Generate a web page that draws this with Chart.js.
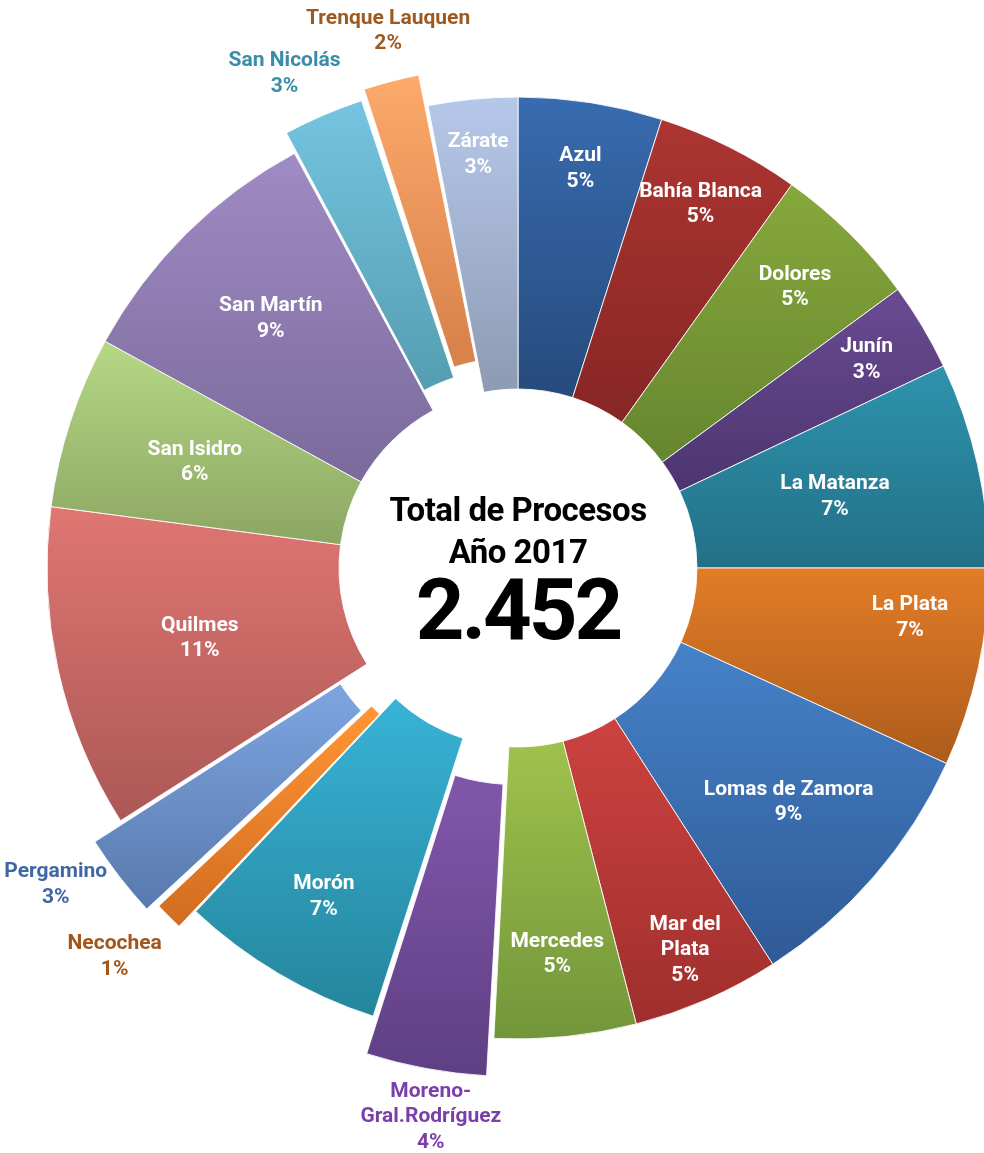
<!DOCTYPE html>
<html lang="es">
<head>
<meta charset="utf-8">
<title>Total de Procesos Año 2017</title>
<script src="https://cdn.jsdelivr.net/npm/chart.js@4.4.1/dist/chart.umd.min.js"></script>
<style>
  html, body { margin: 0; padding: 0; background: #fff; }
  .chart-box { position: relative; width: 984px; height: 1153px; }
</style>
</head>
<body>
<div class="chart-box">
  <canvas id="procesosChart"></canvas>
</div>
<script>
// Departamentos judiciales (clockwise from 12 o'clock)
const districts = [
  'Azul', 'Bahía Blanca', 'Dolores', 'Junín', 'La Matanza', 'La Plata',
  'Lomas de Zamora', 'Mar del Plata', 'Mercedes', 'Moreno-Gral.Rodríguez',
  'Morón', 'Necochea', 'Pergamino', 'Quilmes', 'San Isidro', 'San Martín',
  'San Nicolás', 'Trenque Lauquen', 'Zárate'
];

// Processes per district, 2017 (total 2.452)
const processes = [121, 121, 124, 74, 173, 167, 223, 124, 119, 102, 172, 26, 72, 272, 145, 224, 69, 49, 75];

// Title lines in the hole
const centerTitle = ['Total de Procesos', 'Año 2017'];

// Slice styles: gradient top / bottom colours
const topColors = [
  '#386bb0', '#ad3531', '#87a83c', '#6a4b92', '#2f93ad', '#e27c27',
  '#4682c9', '#cc4340', '#9fc24d', '#7f55a8', '#38b3d6', '#ff9433',
  '#7ba3de', '#df7672', '#b5d886', '#a08bc4', '#76c6e3', '#ffac6e', '#b6c8ea'
];
const bottomColors = [
  '#264b7c', '#862625', '#66862f', '#4c3570', '#227087', '#ad5c1c',
  '#2f5a96', '#9f2e2c', '#72953a', '#5b3d80', '#25859c', '#cf6a1f',
  '#5676a9', '#ab5856', '#8ca662', '#7a6a9b', '#569fb3', '#d8834b', '#8d9ab2'
];

// Exploded slices (chart.js offset units) and label placement
const explode = [0, 0, 0, 0, 0, 0, 0, 0, 0, 87, 0, 46, 73, 0, 0, 0, 48, 68, 0];
const labelRadius = [0.858, 0.864, 0.837, 0.862, 0.69, 0.839, 0.76, 0.885, 0.824, 1.18,
                     0.811, 1.189, 1.19, 0.692, 0.722, 0.745, 1.161, 1.172, 0.881];
const labelNudge = [0, 0, 0, 0, 0, -5, 0, 0, 0, -1.4, 0, 1, 3.3, 0, 0, 0, -2, 1, 0];
const outsideColors = {
  'Moreno-Gral.Rodríguez': '#7b3fa9',
  'Necochea': '#a0561c',
  'Pergamino': '#3f67a6',
  'San Nicolás': '#3a8ca8',
  'Trenque Lauquen': '#9e5a1e'
};
const wrapped = {
  'Mar del Plata': ['Mar del', 'Plata'],
  'Moreno-Gral.Rodríguez': ['Moreno-', 'Gral.Rodríguez']
};

const total = processes.reduce((a, b) => a + b, 0);

function formatThousands(n) {
  return String(n).replace(/\B(?=(\d{3})+(?!\d))/g, '.');
}

// Vertical gradient over each slice's own extent
const sliceGradient = {
  id: 'sliceGradient',
  beforeDatasetsDraw(chart) {
    const ctx = chart.ctx;
    chart.getDatasetMeta(0).data.forEach((arc, i) => {
      const { y, startAngle, endAngle, innerRadius, outerRadius } =
        arc.getProps(['y', 'startAngle', 'endAngle', 'innerRadius', 'outerRadius'], true);
      const shift = (arc.options.offset || 0) / 4;
      const mid = (startAngle + endAngle) / 2;
      const cy = y + Math.sin(mid) * shift;
      let top = Infinity;
      let bottom = -Infinity;
      for (let k = 0; k <= 24; k++) {
        const a = startAngle + (endAngle - startAngle) * k / 24;
        [innerRadius + shift, outerRadius + shift].forEach(r => {
          const py = cy + Math.sin(a) * r;
          top = Math.min(top, py);
          bottom = Math.max(bottom, py);
        });
      }
      const g = ctx.createLinearGradient(0, top, 0, bottom);
      g.addColorStop(0, topColors[i]);
      g.addColorStop(1, bottomColors[i]);
      arc.options.backgroundColor = g;
    });
  }
};

// Name + percentage on every slice
const sliceLabels = {
  id: 'sliceLabels',
  afterDatasetsDraw(chart) {
    const ctx = chart.ctx;
    ctx.save();
    ctx.font = 'bold 21px Roboto';
    ctx.textAlign = 'center';
    ctx.textBaseline = 'middle';
    chart.getDatasetMeta(0).data.forEach((arc, i) => {
      const { x, y, startAngle, endAngle, outerRadius } =
        arc.getProps(['x', 'y', 'startAngle', 'endAngle', 'outerRadius'], true);
      const name = districts[i];
      const a = (startAngle + endAngle) / 2 + labelNudge[i] * Math.PI / 180;
      const r = outerRadius * labelRadius[i];
      const px = x + Math.cos(a) * r;
      const py = y + Math.sin(a) * r;
      const pct = Math.round(processes[i] / total * 100) + '%';
      const lines = (wrapped[name] || [name]).concat(pct);
      ctx.fillStyle = outsideColors[name] || '#ffffff';
      lines.forEach((t, k) => {
        ctx.fillText(t, px, py + (k - (lines.length - 1) / 2) * 25.5);
      });
    });
    ctx.restore();
  }
};

// Title and total inside the hole
const centerText = {
  id: 'centerText',
  afterDraw(chart) {
    const ctx = chart.ctx;
    const arc = chart.getDatasetMeta(0).data[0];
    if (!arc) return;
    const { x, y } = arc.getProps(['x', 'y'], true);
    ctx.save();
    ctx.fillStyle = '#000';
    ctx.textAlign = 'center';
    ctx.textBaseline = 'middle';
    ctx.font = 'bold 33px Roboto';
    ctx.letterSpacing = '-0.5px';
    ctx.fillText(centerTitle[0], x, y - 55);
    ctx.fillText(centerTitle[1], x, y - 13);
    ctx.font = 'bold 85px Roboto';
    ctx.letterSpacing = '-3px';
    ctx.fillText(formatThousands(total), x, y + 50);
    ctx.restore();
  }
};

const chartCtx = document.getElementById('procesosChart').getContext('2d');
const procesosChart = new Chart(chartCtx, {
  type: 'doughnut',
  data: {
    labels: districts,
    datasets: [{
      data: processes,
      backgroundColor: topColors,
      borderColor: 'rgba(255,255,255,0.85)',
      borderWidth: 1,
      offset: explode
    }]
  },
  options: {
    responsive: true,
    maintainAspectRatio: false,
    animation: false,
    radius: 471,
    cutout: '38%',
    layout: {
      padding: { left: 52, right: 0, top: 0, bottom: 17 }
    },
    plugins: {
      legend: { display: false },
      tooltip: { enabled: false }
    }
  },
  plugins: [sliceGradient, sliceLabels, centerText]
});
</script>
</body>
</html>
